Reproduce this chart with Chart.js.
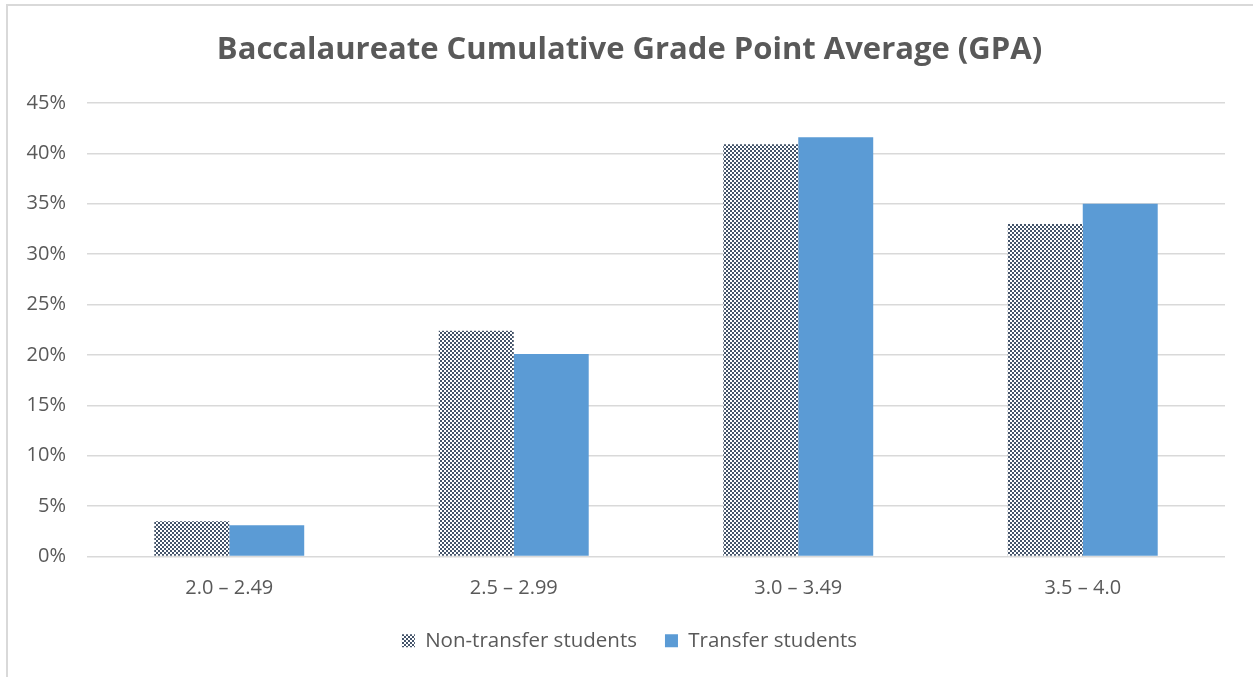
<!DOCTYPE html>
<html>
<head>
<meta charset="utf-8">
<script src="https://cdn.jsdelivr.net/npm/chart.js@4"></script>
<style>
  html, body { margin: 0; padding: 0; background: #fff; }
  #wrap { position: relative; width: 1253px; height: 677px; overflow: hidden; }
  #frame { position: absolute; left: 6px; top: 4px; right: -4px; bottom: -4px;
           border-left: 2px solid #d9d9d9; border-top: 2px solid #d9d9d9; pointer-events: none; }
  canvas { position: absolute; left: 0; top: 0; }
</style>
</head>
<body>
<div id="wrap">
  <canvas id="gpaChart" width="1253" height="677"></canvas>
  <div id="frame"></div>
</div>
<script>
const categories = ['2.0 – 2.49', '2.5 – 2.99', '3.0 – 3.49', '3.5 – 4.0'];
const nonTransfer = [3.5, 22.4, 40.9, 33.0];
const transfer = [3.1, 20.1, 41.6, 35.0];
const yMax = 45;
const yStep = 5;

const textColor = '#595959';
const fontFamily = '"Open Sans", sans-serif';

// checkerboard fill for the non-transfer bars
function makePattern() {
  const c = document.createElement('canvas');
  c.width = 4;
  c.height = 4;
  const g = c.getContext('2d');
  g.fillStyle = '#ffffff';
  g.fillRect(0, 0, 4, 4);
  g.fillStyle = '#44546a';
  g.fillRect(0, 0, 2, 2);
  g.fillRect(2, 2, 2, 2);
  g.fillRect(1, 1, 1, 1);
  return g.createPattern(c, 'repeat');
}

const ctx = document.getElementById('gpaChart').getContext('2d');
const checker = makePattern();

new Chart(ctx, {
  type: 'bar',
  data: {
    labels: categories,
    datasets: [{
      label: 'Non-transfer students',
      data: nonTransfer,
      backgroundColor: checker,
      borderWidth: 0
    }, {
      label: 'Transfer students',
      data: transfer,
      backgroundColor: '#5b9bd5',
      borderWidth: 0
    }]
  },
  options: {
    responsive: false,
    devicePixelRatio: 1,
    animation: false,
    categoryPercentage: 0.527,
    barPercentage: 1.0,
    layout: { padding: { left: 6, right: 0, top: 0, bottom: 16 } },
    plugins: {
      title: {
        display: true,
        text: 'Baccalaureate Cumulative Grade Point Average (GPA)',
        color: textColor,
        font: { family: fontFamily, size: 31, weight: 'bold' },
        padding: { top: 31.4, bottom: 34.4 }
      },
      legend: {
        position: 'bottom',
        labels: {
          color: textColor,
          font: { family: fontFamily, size: 20.5 },
          boxWidth: 13,
          boxHeight: 13,
          padding: 28
        }
      },
      tooltip: { enabled: false }
    },
    scales: {
      x: {
        grid: { display: false, drawTicks: false },
        border: { display: false },
        ticks: { color: textColor, font: { family: fontFamily, size: 20 }, padding: 20 },
        afterFit: (scale) => { scale.height = 46; }
      },
      y: {
        min: 0,
        max: yMax,
        grid: { color: '#d9d9d9', lineWidth: 1.5, drawTicks: false },
        border: { display: false },
        ticks: {
          stepSize: yStep,
          color: textColor,
          font: { family: fontFamily, size: 20 },
          padding: 21,
          callback: (v) => v + '%'
        },
        afterFit: (scale) => { scale.width = 81; }
      },
      // empty right-hand spacer so the plot ends where the reference does
      yRight: {
        position: 'right',
        min: 0,
        max: yMax,
        grid: { display: false },
        border: { display: false },
        ticks: { display: false },
        afterFit: (scale) => { scale.width = 28; }
      }
    }
  }
});
</script>
</body>
</html>
